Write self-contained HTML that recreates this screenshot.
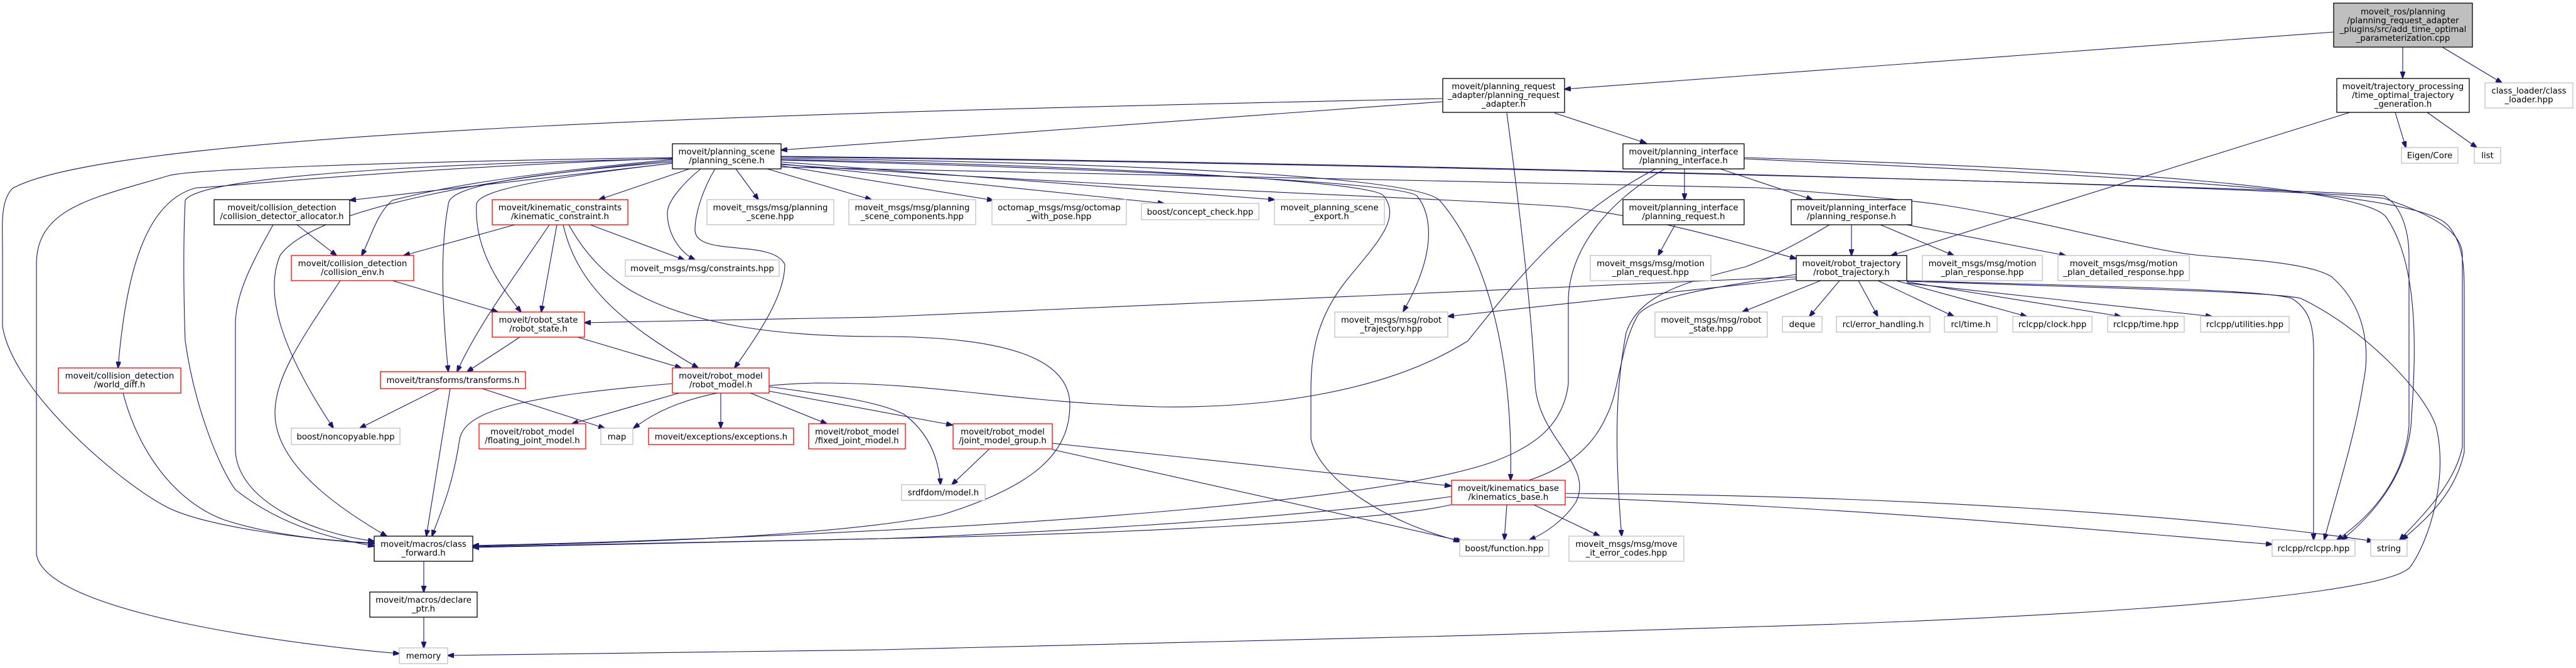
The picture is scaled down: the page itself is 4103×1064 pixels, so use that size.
<!DOCTYPE html>
<html><head><meta charset="utf-8">
<style>
html,body{margin:0;padding:0;background:#fff;}
svg{display:block;}
text{font-family:"DejaVu Sans","Liberation Sans",sans-serif;font-size:13.3px;fill:#000;text-anchor:middle;}
.e{fill:none;stroke:#191970;stroke-width:1.1;}
.nb{fill:#fff;stroke:#000;stroke-width:1.3;}
.nr{fill:#fff;stroke:#ff0000;stroke-width:1.3;}
.ng{fill:#fff;stroke:#bfbfbf;stroke-width:1.3;}
</style></head><body>
<svg width="4103" height="1064" viewBox="0 0 4103 1064" xmlns="http://www.w3.org/2000/svg">
<defs>
<marker id="a" markerWidth="11" markerHeight="8" refX="10" refY="4" orient="auto" markerUnits="userSpaceOnUse">
<path d="M0,0 L11,4 L0,8 z" fill="#191970" stroke="#191970"/>
</marker>
</defs>
<g marker-end="url(#a)">
<!-- cpp -->
<path class="e" d="M3717,51 L2492,142"/>
<path class="e" d="M3827,75 L3827,124"/>
<path class="e" d="M3890,75 L3985,132"/>
<!-- adapter -->
<path class="e" d="M2297,157 C1500,175 200,200 20,300 C0,320 4,360 4,400 L4,520 C20,620 180,760 259,804 C320,840 500,860 596,866"/>
<path class="e" d="M2297,162 L1244,239"/>
<path class="e" d="M2476,180 L2622,228"/>
<path class="e" d="M2400,180 C2420,330 2440,500 2445,611 C2450,700 2540,740 2510,800 C2490,830 2460,850 2436,860"/>
<!-- planning_scene -->
<path class="e" d="M1071,260 L557,319"/>
<path class="e" d="M1098,269 L954,318"/>
<path class="e" d="M1172,269 L1208,318"/>
<path class="e" d="M1222,269 L1388,318"/>
<path class="e" d="M1244,264 L1582,319"/>
<path class="e" d="M1244,261 L1854,324"/>
<path class="e" d="M1244,258 L2030,318"/>
<path class="e" d="M1244,255 C1800,270 2230,290 2257,312 C2280,340 2290,400 2235,496"/>
<path class="e" d="M1244,254 C1800,265 2190,290 2204,312 C2230,346 2200,380 2150,440 C2100,500 2088,556 2088,620 L2088,699 C2100,760 2200,830 2325,862"/>
<path class="e" d="M1244,252 C1800,260 2250,280 2293,319 C2380,420 2410,600 2406,765"/>
<path class="e" d="M1244,250 C2200,260 3700,300 3797,312 C3830,330 3837,380 3837,407 L3837,679 C3830,760 3780,820 3722,860"/>
<path class="e" d="M1244,249 C2300,260 3700,300 3797,316 C3900,350 3922,380 3922,407 L3922,712 C3910,770 3860,820 3822,860"/>
<path class="e" d="M1244,262 C1800,300 2382,319 2500,330 C2650,350 2780,390 2861,412"/>
<path class="e" d="M1244,266 C2000,285 2600,290 2800,299 C2950,310 3050,320 3091,326 C3250,350 3420,400 3506,407 C3600,415 3680,420 3714,441 C3770,490 3775,560 3764,611 C3750,700 3720,790 3702,860"/>
<path class="e" d="M1071,251 C600,258 300,270 268,280 C150,315 58,330 58,421 L58,882 C70,980 500,1030 636,1041"/>
<path class="e" d="M1071,253 C700,260 320,280 295,319 C290,420 295,543 295,543 C310,650 350,746 375,780 C450,840 540,860 596,870"/>
<path class="e" d="M1071,252 C600,270 350,299 313,299 C230,320 200,440 188,586"/>
<path class="e" d="M1071,254 C800,280 700,300 625,319 C600,340 590,380 576,407"/>
<path class="e" d="M1071,256 C800,280 500,330 446,407 C420,470 450,560 531,682"/>
<path class="e" d="M1071,258 C800,280 714,300 714,326 C700,400 705,500 714,592"/>
<path class="e" d="M1071,260 C900,280 759,300 759,326 C755,400 800,460 830,497"/>
<path class="e" d="M1116,269 C1090,290 1063,320 1063,339 C1063,370 1080,400 1107,414"/>
<path class="e" d="M1139,269 C1120,300 1107,340 1107,366 C1107,410 1230,380 1250,421 C1250,470 1210,530 1170,586"/>
<!-- kinematic_constraint -->
<path class="e" d="M820,358 L643,407"/>
<path class="e" d="M887,358 L862,497"/>
<path class="e" d="M875,358 C820,440 760,520 728,592"/>
<path class="e" d="M897,358 C920,460 1000,520 1112,586"/>
<path class="e" d="M940,358 L1090,414"/>
<path class="e" d="M906,358 C940,420 982,448 1000,460 C1100,520 1250,536 1400,536 C1600,536 1704,570 1704,645 C1704,720 1650,774 1500,820 C1300,860 900,866 753,870"/>
<!-- coll alloc -->
<path class="e" d="M473,358 L536,407"/>
<path class="e" d="M435,358 C400,420 375,470 375,516 L375,719 C380,800 500,850 596,862"/>
<!-- collision_env -->
<path class="e" d="M625,447 L793,497"/>
<path class="e" d="M542,447 C480,540 438,600 438,658 C438,740 540,810 616,854"/>
<!-- robot_state -->
<path class="e" d="M828,537 L744,592"/>
<path class="e" d="M920,537 L1085,586"/>
<!-- world diff -->
<path class="e" d="M196,626 C220,720 280,800 357,828 C440,855 540,862 596,865"/>
<!-- transforms -->
<path class="e" d="M699,619 L573,682"/>
<path class="e" d="M768,619 L963,682"/>
<path class="e" d="M717,619 L679,854"/>
<!-- robot_model -->
<path class="e" d="M1071,611 C850,630 740,650 732,700 C720,780 700,820 688,854"/>
<path class="e" d="M1082,626 L911,675"/>
<path class="e" d="M1148,626 L1148,682"/>
<path class="e" d="M1195,626 L1317,675"/>
<path class="e" d="M1225,623 L1517,677"/>
<path class="e" d="M1225,616 C1330,630 1400,640 1440,660 C1480,690 1495,730 1498,772"/>
<!-- planning_interface -->
<path class="e" d="M2637,269 C2500,340 2420,440 2338,543 C2200,630 2000,650 1846,648 C1600,640 1500,610 1300,610 C1100,615 1040,660 1009,682"/>
<path class="e" d="M2683,269 L2683,318"/>
<path class="e" d="M2740,269 L2887,318"/>
<path class="e" d="M2652,269 C2560,320 2498,400 2498,480 L2498,611 C2490,680 2440,712 2380,735 C2200,800 1600,835 1400,845 C1100,860 900,866 753,869"/>
<path class="e" d="M2778,251 C3400,270 3760,300 3800,345 C3860,430 3845,600 3840,680 C3830,760 3780,820 3730,860"/>
<path class="e" d="M2778,253 C3500,285 3860,310 3900,360 C3925,390 3925,430 3925,470 L3925,720 C3910,790 3860,830 3826,860"/>
<path class="e" d="M2668,358 L2641,407"/>
<!-- planning_response -->
<path class="e" d="M2949,358 L2949,407"/>
<path class="e" d="M2995,358 L3112,407"/>
<path class="e" d="M3037,358 L3290,407"/>
<path class="e" d="M2914,358 C2860,390 2820,410 2780,425 C2680,450 2610,470 2590,530 C2575,610 2570,700 2583,854"/>
<!-- traj gen -->
<path class="e" d="M3743,179 L3012,407"/>
<path class="e" d="M3815,179 L3832,235"/>
<path class="e" d="M3866,179 L3945,235"/>
<!-- robot_trajectory.h -->
<path class="e" d="M2930,447 L2882,504"/>
<path class="e" d="M2960,447 L2991,504"/>
<path class="e" d="M2991,447 L3112,504"/>
<path class="e" d="M3020,447 L3228,504"/>
<path class="e" d="M3037,449 L3378,504"/>
<path class="e" d="M3037,451 L3523,504"/>
<path class="e" d="M2900,447 L2775,497"/>
<path class="e" d="M2861,444 L2306,504"/>
<path class="e" d="M2861,441 L1400,505 L931,514"/>
<path class="e" d="M2861,437 C2720,460 2640,470 2610,500 C2580,550 2580,620 2560,660 C2530,730 2470,760 2380,780 C2100,830 1500,855 1400,858 C1100,865 900,868 753,871"/>
<path class="e" d="M3037,447 C3300,455 3600,460 3650,475 C3690,500 3685,540 3685,600 L3685,860"/>
<path class="e" d="M3037,448 C3400,460 3620,465 3664,475 C3760,520 3860,620 3880,679 C3900,760 3870,860 3839,903 C3790,960 3100,990 2800,998 C2300,1015 1600,1032 1400,1035 C1100,1040 850,1043 713,1044"/>
<!-- kinematics base -->
<path class="e" d="M2400,804 L2396,860"/>
<path class="e" d="M2443,804 L2548,854"/>
<path class="e" d="M2311,804 C2200,830 1800,850 1400,858 C1100,865 900,870 753,872"/>
<path class="e" d="M2494,792 C3000,810 3400,850 3619,867"/>
<path class="e" d="M2494,786 C3000,788 3500,820 3780,862"/>
<!-- joint model group -->
<path class="e" d="M1576,715 L1516,772"/>
<path class="e" d="M1676,706 L2311,774"/>
<path class="e" d="M1676,716 L2329,862"/>
<!-- macros -->
<path class="e" d="M675,894 L675,943"/>
<path class="e" d="M675,983 L675,1032"/>
</g>

<!-- nodes -->
<rect class="ng" x="3717" y="5" width="221" height="70" style="fill:#bfbfbf;stroke:#000"/>
<text x="3827.5" y="23">moveit_ros/planning</text><text x="3827.5" y="37">/planning_request_adapter</text><text x="3827.5" y="51">_plugins/src/add_time_optimal</text><text x="3827.5" y="65">_parameterization.cpp</text>

<rect class="nb" x="2298" y="125" width="194" height="54"/>
<text x="2395" y="142">moveit/planning_request</text><text x="2395" y="156">_adapter/planning_request</text><text x="2395" y="170">_adapter.h</text>

<rect class="nb" x="3722" y="125" width="211" height="54"/>
<text x="3827.5" y="142">moveit/trajectory_processing</text><text x="3827.5" y="156">/time_optimal_trajectory</text><text x="3827.5" y="170">_generation.h</text>

<rect class="ng" x="3958" y="132" width="140" height="40"/>
<text x="4028" y="149">class_loader/class</text><text x="4028" y="163">_loader.hpp</text>

<rect class="ng" x="3825" y="235" width="90" height="25"/><text x="3870" y="252">Eigen/Core</text>
<rect class="ng" x="3941" y="235" width="42" height="25"/><text x="3962" y="252">list</text>

<rect class="nb" x="1071" y="229" width="173" height="40"/>
<text x="1157.5" y="246">moveit/planning_scene</text><text x="1157.5" y="260">/planning_scene.h</text>

<rect class="nb" x="2585" y="229" width="193" height="40"/>
<text x="2681.5" y="246">moveit/planning_interface</text><text x="2681.5" y="260">/planning_interface.h</text>

<rect class="nb" x="341" y="318" width="216" height="40"/>
<text x="449" y="335">moveit/collision_detection</text><text x="449" y="349">/collision_detector_allocator.h</text>

<rect class="nr" x="784" y="318" width="216" height="40"/>
<text x="892" y="335">moveit/kinematic_constraints</text><text x="892" y="349">/kinematic_constraint.h</text>

<rect class="ng" x="1126" y="318" width="202" height="40"/>
<text x="1227" y="335">moveit_msgs/msg/planning</text><text x="1227" y="349">_scene.hpp</text>

<rect class="ng" x="1352" y="318" width="202" height="40"/>
<text x="1453" y="335">moveit_msgs/msg/planning</text><text x="1453" y="349">_scene_components.hpp</text>

<rect class="ng" x="1580" y="318" width="214" height="40"/>
<text x="1687" y="335">octomap_msgs/msg/octomap</text><text x="1687" y="349">_with_pose.hpp</text>

<rect class="ng" x="1818" y="324" width="187" height="26"/><text x="1911.5" y="342">boost/concept_check.hpp</text>

<rect class="ng" x="2030" y="318" width="175" height="40"/>
<text x="2117.5" y="335">moveit_planning_scene</text><text x="2117.5" y="349">_export.h</text>

<rect class="nb" x="2585" y="318" width="193" height="40"/>
<text x="2681.5" y="335">moveit/planning_interface</text><text x="2681.5" y="349">/planning_request.h</text>

<rect class="nb" x="2853" y="318" width="192" height="40"/>
<text x="2949" y="335">moveit/planning_interface</text><text x="2949" y="349">/planning_response.h</text>

<rect class="nr" x="464" y="407" width="195" height="40"/>
<text x="561.5" y="424">moveit/collision_detection</text><text x="561.5" y="438">/collision_env.h</text>

<rect class="ng" x="996" y="414" width="245" height="26"/><text x="1118.5" y="432">moveit_msgs/msg/constraints.hpp</text>

<rect class="ng" x="2533" y="407" width="192" height="40"/>
<text x="2629" y="424">moveit_msgs/msg/motion</text><text x="2629" y="438">_plan_request.hpp</text>

<rect class="nb" x="2861" y="407" width="176" height="40"/>
<text x="2949" y="424">moveit/robot_trajectory</text><text x="2949" y="438">/robot_trajectory.h</text>

<rect class="ng" x="3062" y="407" width="191" height="40"/>
<text x="3157.5" y="424">moveit_msgs/msg/motion</text><text x="3157.5" y="438">_plan_response.hpp</text>

<rect class="ng" x="3278" y="407" width="209" height="40"/>
<text x="3382.5" y="424">moveit_msgs/msg/motion</text><text x="3382.5" y="438">_plan_detailed_response.hpp</text>

<rect class="nr" x="784" y="497" width="147" height="40"/>
<text x="857.5" y="514">moveit/robot_state</text><text x="857.5" y="528">/robot_state.h</text>

<rect class="ng" x="2126" y="497" width="180" height="40"/>
<text x="2216" y="514">moveit_msgs/msg/robot</text><text x="2216" y="528">_trajectory.hpp</text>

<rect class="ng" x="2636" y="497" width="179" height="40"/>
<text x="2725.5" y="514">moveit_msgs/msg/robot</text><text x="2725.5" y="528">_state.hpp</text>

<rect class="ng" x="2839" y="504" width="63" height="25"/><text x="2870.5" y="521">deque</text>
<rect class="ng" x="2925" y="504" width="149" height="25"/><text x="2999.5" y="521">rcl/error_handling.h</text>
<rect class="ng" x="3097" y="504" width="84" height="25"/><text x="3139" y="521">rcl/time.h</text>
<rect class="ng" x="3206" y="504" width="126" height="25"/><text x="3269" y="521">rclcpp/clock.hpp</text>
<rect class="ng" x="3357" y="504" width="122" height="25"/><text x="3418" y="521">rclcpp/time.hpp</text>
<rect class="ng" x="3505" y="504" width="141" height="25"/><text x="3575.5" y="521">rclcpp/utilities.hpp</text>

<rect class="nr" x="93" y="586" width="195" height="40"/>
<text x="190.5" y="603">moveit/collision_detection</text><text x="190.5" y="617">/world_diff.h</text>

<rect class="nr" x="606" y="592" width="231" height="27"/><text x="721.5" y="610">moveit/transforms/transforms.h</text>

<rect class="nr" x="1071" y="586" width="154" height="40"/>
<text x="1148" y="603">moveit/robot_model</text><text x="1148" y="617">/robot_model.h</text>

<rect class="ng" x="464" y="682" width="173" height="26"/><text x="550.5" y="700">boost/noncopyable.hpp</text>

<rect class="nr" x="763" y="675" width="170" height="40"/>
<text x="848" y="692">moveit/robot_model</text><text x="848" y="706">/floating_joint_model.h</text>

<rect class="ng" x="957" y="682" width="51" height="26"/><text x="982.5" y="700">map</text>

<rect class="nr" x="1033" y="682" width="231" height="26"/><text x="1148.5" y="700">moveit/exceptions/exceptions.h</text>

<rect class="nr" x="1288" y="675" width="154" height="40"/>
<text x="1365" y="692">moveit/robot_model</text><text x="1365" y="706">/fixed_joint_model.h</text>

<rect class="nr" x="1518" y="675" width="158" height="40"/>
<text x="1597" y="692">moveit/robot_model</text><text x="1597" y="706">/joint_model_group.h</text>

<rect class="ng" x="1436" y="772" width="133" height="25"/><text x="1502.5" y="789">srdfdom/model.h</text>

<rect class="nr" x="2312" y="765" width="181" height="39"/>
<text x="2402.5" y="782">moveit/kinematics_base</text><text x="2402.5" y="796">/kinematics_base.h</text>

<rect class="nb" x="596" y="854" width="157" height="40"/>
<text x="674.5" y="871">moveit/macros/class</text><text x="674.5" y="885">_forward.h</text>

<rect class="ng" x="2325" y="860" width="142" height="26"/><text x="2396" y="878">boost/function.hpp</text>

<rect class="ng" x="2499" y="854" width="183" height="40"/>
<text x="2590.5" y="871">moveit_msgs/msg/move</text><text x="2590.5" y="885">_it_error_codes.hpp</text>

<rect class="ng" x="3619" y="860" width="132" height="26"/><text x="3685" y="878">rclcpp/rclcpp.hpp</text>
<rect class="ng" x="3776" y="860" width="58" height="26"/><text x="3805" y="878">string</text>

<rect class="nb" x="589" y="943" width="171" height="40"/>
<text x="674.5" y="960">moveit/macros/declare</text><text x="674.5" y="974">_ptr.h</text>

<rect class="ng" x="636" y="1032" width="77" height="25"/><text x="674.5" y="1049">memory</text>
</svg>
</body></html>
